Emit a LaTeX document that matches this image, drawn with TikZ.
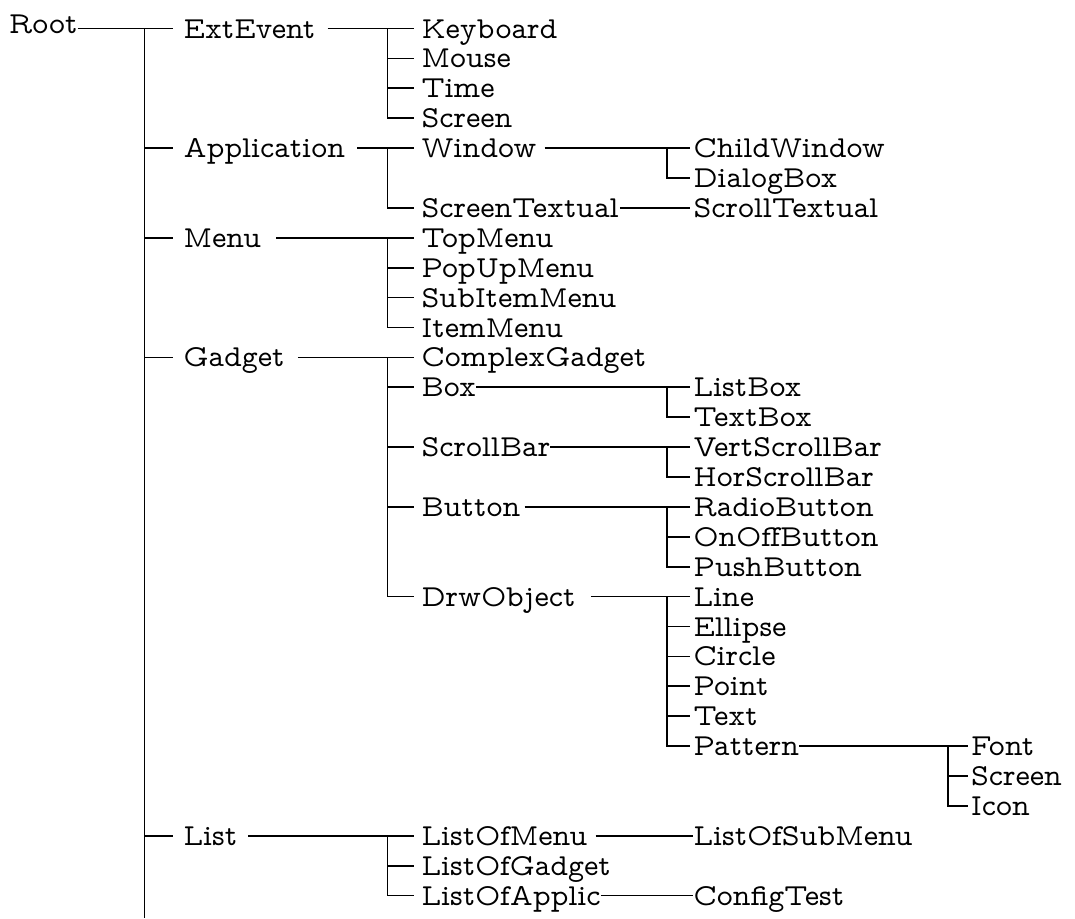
\documentclass[tikz,border=0pt]{standalone}
\usepackage{fontspec}
\IfFontExistsTF{Latin Modern Mono Prop}
  {\newfontfamily\treefam{Latin Modern Mono Prop}}
  {\newfontfamily\treefam{Latin Modern Mono}}
\newcommand\treefont{\treefam\fontsize{30.5}{36}\selectfont}
\tikzset{
  lbl/.style={anchor=west, inner sep=0pt, text height=19pt, text depth=0pt, font=\treefont},
  conn/.style={line width=1.7pt, black}
}
\begin{document}
\begin{tikzpicture}[x=1pt,y=-1pt]
\useasboundingbox (0,0) rectangle (1075,918);

% ---- labels ----
\node[font=\treefont, inner sep=0pt, anchor=base west] (root) at (9,33.3) {Root};

\node[lbl] (ext)  at (183.5,28.5)  {ExtEvent};
\node[lbl] (app)  at (183.5,148.1) {Application};
\node[lbl] (menu) at (183.5,237.8) {Menu};
\node[lbl] (gad)  at (183.5,357.4) {Gadget};
\node[lbl] (list) at (183.5,835.8) {List};

\node[lbl] (kbd)   at (421.5,28.5)  {Keyboard};
\node[lbl] (mouse) at (421.5,58.4)  {Mouse};
\node[lbl] (time)  at (421.5,88.3)  {Time};
\node[lbl] (scr)   at (421.5,118.2) {Screen};
\node[lbl] (win)   at (421.5,148.1) {Window};
\node[lbl] (stxt)  at (421.5,207.9) {ScreenTextual};
\node[lbl] (top)   at (421.5,237.8) {TopMenu};
\node[lbl] (pop)   at (421.5,267.7) {PopUpMenu};
\node[lbl] (sub)   at (421.5,297.6) {SubItemMenu};
\node[lbl] (item)  at (421.5,327.5) {ItemMenu};
\node[lbl] (cplx)  at (421.5,357.4) {ComplexGadget};
\node[lbl] (box)   at (421.5,387.3) {Box};
\node[lbl] (sbar)  at (421.5,447.1) {ScrollBar};
\node[lbl] (btn)   at (421.5,506.9) {Button};
\node[lbl] (drw)   at (421.5,596.6) {DrwObject};
\node[lbl] (lmenu) at (421.5,835.8) {ListOfMenu};
\node[lbl] (lgad)  at (421.5,865.7) {ListOfGadget};
\node[lbl] (lapp)  at (421.5,895.6) {ListOfApplic};

\node[lbl] (child) at (693.5,148.1) {ChildWindow};
\node[lbl] (dlg)   at (693.5,178.0) {DialogBox};
\node[lbl] (stx)   at (693.5,207.9) {ScrollTextual};
\node[lbl] (lbox)  at (693.5,387.3) {ListBox};
\node[lbl] (tbox)  at (693.5,417.2) {TextBox};
\node[lbl] (vsb)   at (693.5,447.1) {VertScrollBar};
\node[lbl] (hsb)   at (693.5,477.0) {HorScrollBar};
\node[lbl] (radio) at (693.5,506.9) {RadioButton};
\node[lbl] (onoff) at (693.5,536.8) {OnOffButton};
\node[lbl] (push)  at (693.5,566.7) {PushButton};
\node[lbl] (line)  at (693.5,596.6) {Line};
\node[lbl] (ell)   at (693.5,626.5) {Ellipse};
\node[lbl] (circ)  at (693.5,656.4) {Circle};
\node[lbl] (pt)    at (693.5,686.3) {Point};
\node[lbl] (txt)   at (693.5,716.2) {Text};
\node[lbl] (pat)   at (693.5,746.1) {Pattern};
\node[lbl] (lsub)  at (693.5,835.8) {ListOfSubMenu};
\node[lbl] (cfg)   at (693.5,895.6) {ConfigTest};

\node[lbl] (font)  at (971,746.1) {Font};
\node[lbl] (scr2)  at (971,776.0) {Screen};
\node[lbl] (icon)  at (971,805.9) {Icon};

% ---- junctions ----
\coordinate (j0)    at (144.5,28.5);
\coordinate (jend)  at (144.5,918);
\coordinate (jext)  at (387.5,28.5);
\coordinate (japp)  at (387.5,148.1);
\coordinate (jmenu) at (387.5,237.8);
\coordinate (jgad)  at (387.5,357.4);
\coordinate (jlist) at (387.5,835.8);
\coordinate (jwin)  at (667,148.1);
\coordinate (jbox)  at (667,387.3);
\coordinate (jsbar) at (667,447.1);
\coordinate (jbtn)  at (667,506.9);
\coordinate (jdrw)  at (667,596.6);
\coordinate (jpat)  at (948,746.1);

% ---- root level ----
\draw[conn] (root.east |- j0) -- ([xshift=-10.5pt]ext.west);
\draw[conn] (j0) -- (jend);
\foreach \c in {app,menu,gad,list}
  \draw[conn] (j0) |- ([xshift=-10.5pt]\c.west);

% ---- second level ----
\draw[conn] ([xshift=12pt]ext.east) -- ([xshift=-7.5pt]kbd.west);
\foreach \c in {mouse,time,scr}
  \draw[conn] (jext) |- ([xshift=-7.5pt]\c.west);

\draw[conn] ([xshift=12pt]app.east) -- ([xshift=-7.5pt]win.west);
\draw[conn] (japp) |- ([xshift=-7.5pt]stxt.west);

\draw[conn] ([xshift=15pt]menu.east) -- ([xshift=-7.5pt]top.west);
\foreach \c in {pop,sub,item}
  \draw[conn] (jmenu) |- ([xshift=-7.5pt]\c.west);

\draw[conn] ([xshift=13pt]gad.east) -- ([xshift=-7.5pt]cplx.west);
\foreach \c in {box,sbar,btn,drw}
  \draw[conn] (jgad) |- ([xshift=-7.5pt]\c.west);

\draw[conn] ([xshift=11pt]list.east) -- ([xshift=-7.5pt]lmenu.west);
\foreach \c in {lgad,lapp}
  \draw[conn] (jlist) |- ([xshift=-7.5pt]\c.west);

% ---- third level ----
\draw[conn] ([xshift=8pt]win.east) -- ([xshift=-3.5pt]child.west);
\draw[conn] (jwin) |- ([xshift=-3.5pt]dlg.west);
\draw[conn] ([xshift=1pt]stxt.east) -- ([xshift=-3.5pt]stx.west);

\draw[conn] (box.east) -- ([xshift=-3.5pt]lbox.west);
\draw[conn] (jbox) |- ([xshift=-3.5pt]tbox.west);

\draw[conn] (sbar.east) -- ([xshift=-3.5pt]vsb.west);
\draw[conn] (jsbar) |- ([xshift=-3.5pt]hsb.west);

\draw[conn] ([xshift=4pt]btn.east) -- ([xshift=-3.5pt]radio.west);
\foreach \c in {onoff,push}
  \draw[conn] (jbtn) |- ([xshift=-3.5pt]\c.west);

\draw[conn] ([xshift=15pt]drw.east) -- ([xshift=-3.5pt]line.west);
\foreach \c in {ell,circ,pt,txt,pat}
  \draw[conn] (jdrw) |- ([xshift=-3.5pt]\c.west);

\draw[conn] ([xshift=8pt]lmenu.east) -- ([xshift=-0.5pt]lsub.west);
\draw[conn] (lapp.east) -- ([xshift=-0.5pt]cfg.west);

% ---- fourth level ----
\draw[conn] (pat.east) -- ([xshift=-3pt]font.west);
\foreach \c in {scr2,icon}
  \draw[conn] (jpat) |- ([xshift=-3pt]\c.west);
\end{tikzpicture}
\end{document}
